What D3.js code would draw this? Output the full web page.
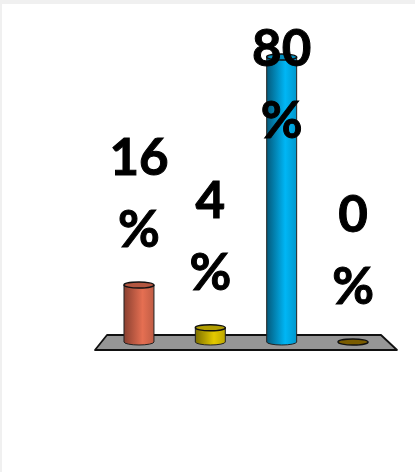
<!DOCTYPE html>
<html><head><meta charset="utf-8">
<script src="https://cdn.jsdelivr.net/npm/d3@7"></script>
<style>html,body{margin:0;padding:0;background:#f0f0f0}svg{display:block}</style>
</head><body><div id="c"></div>
<script>
const categories = ["A","B","C","D"];
const values = [16,4,80,0];
const labels = ["16","4","80","0"];
const percentSign = ["%","%","%","%"];
const lightColors = ["#e56f52","#e3c900","#00b6f5","#7a5c00"];
const darkColors = ["#8a4030","#7d6f00","#045a7c","#5a4500"];

const W=415,H=472;
const svg=d3.select("#c").append("svg").attr("width",W).attr("height",H);
svg.append("rect").attr("x",2).attr("y",4).attr("width",W-2).attr("height",H-4).attr("fill","#fff");

const x=d3.scaleBand().domain(categories).range([103.3,388.7]).paddingInner(0.58).paddingOuter(0.29);
const y=d3.scaleLinear().domain([0,80]).range([342,57]);
const rx=x.bandwidth()/2, ry=3;

const defs=svg.append("defs");
categories.forEach((c,i)=>{
  const g=defs.append("linearGradient").attr("id","g"+i);
  g.append("stop").attr("offset","0%").attr("stop-color",darkColors[i]);
  g.append("stop").attr("offset","62%").attr("stop-color",lightColors[i]);
  g.append("stop").attr("offset","100%").attr("stop-color",d3.color(lightColors[i]).darker(0.5));
});

// floor
svg.append("path").attr("d",d3.line()([[107,335],[381,335],[397,350],[95,350]])+"Z")
  .attr("fill","#969696").attr("stroke","#111").attr("stroke-width",1.8).attr("stroke-linejoin","round");

const bars=svg.selectAll("g.bar").data(values).join("g").attr("class","bar")
  .attr("transform",(d,i)=>`translate(${x(categories[i])+rx},0)`);

bars.each(function(v,i){
  const g=d3.select(this), top=y(v), base=y(0);
  if(v>0){
    g.append("path")
      .attr("d",`M${-rx},${top}V${base}A${rx},${ry} 0 0 0 ${rx},${base}V${top}Z`)
      .attr("fill",`url(#g${i})`).attr("stroke","#222").attr("stroke-width",1);
    g.append("ellipse").attr("cy",top).attr("rx",rx).attr("ry",ry)
      .attr("fill",d3.color(lightColors[i]).darker(0.7)).attr("stroke","#111").attr("stroke-width",1.5);
  } else {
    g.append("ellipse").attr("cy",base).attr("rx",rx).attr("ry",ry)
      .attr("fill",lightColors[i]).attr("stroke","#111").attr("stroke-width",1.5);
  }
  const base2=Math.max(top-38,138);
  g.append("text").text(percentSign[i]).attr("y",base2).attr("text-anchor","middle");
  g.append("text").text(labels[i]).attr("y",base2-72).attr("text-anchor","middle");
});
bars.selectAll("text").attr("font-family","Lato, 'Open Sans', sans-serif").attr("font-weight",700)
  .attr("font-size",51).attr("fill","#000").attr("stroke","#000").attr("stroke-width",1);
</script></body></html>
